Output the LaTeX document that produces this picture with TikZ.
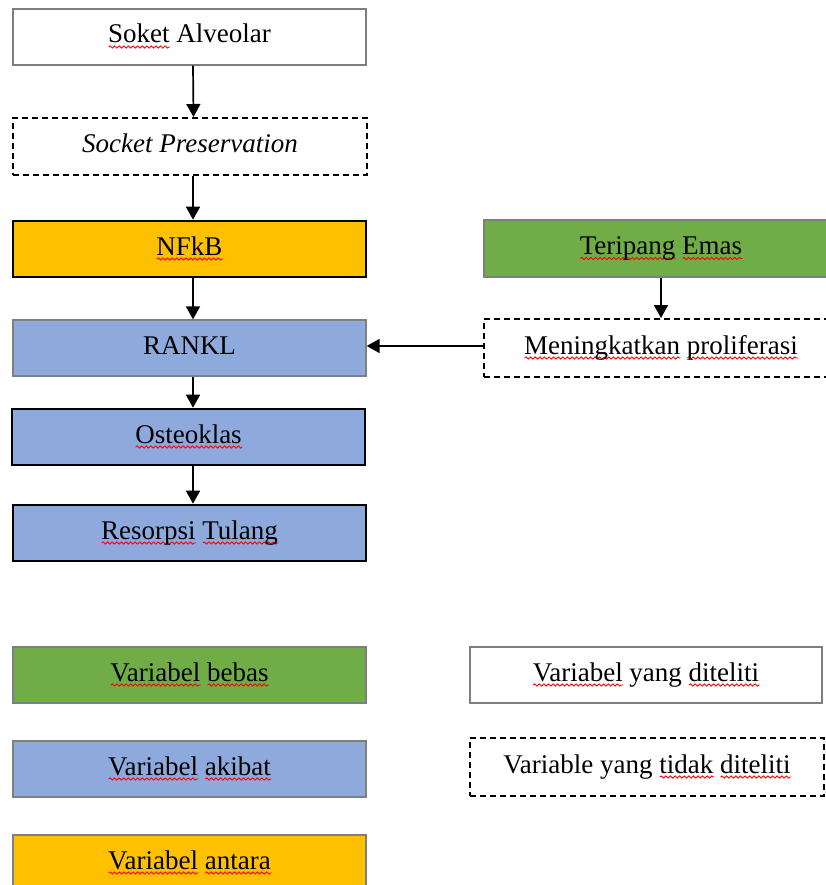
\documentclass[tikz,border=0pt]{standalone}
\usepackage{fontspec}
\setmainfont{Liberation Serif}
\usetikzlibrary{arrows.meta,decorations.pathmorphing}
\definecolor{cOrange}{HTML}{FFC000}
\definecolor{cBlue}{HTML}{8EA9DB}
\definecolor{cGreen}{HTML}{70AD47}
\definecolor{cGray}{HTML}{7F7F7F}
\newsavebox\sqbox
\newlength\sqlen
\newcommand\sq[1]{\sbox\sqbox{#1}\setlength\sqlen{\wd\sqbox}\rlap{\raisebox{0pt}[0pt][0pt]{\tikz[baseline=0pt]{\draw[red, line width=0.9pt, decorate, decoration={snake, amplitude=1.1pt, segment length=4.6pt}] (0pt,-4pt) -- (\sqlen,-4pt);}}}\usebox\sqbox}
\tikzset{
  boxbase/.style={rectangle, minimum width=353pt, minimum height=56pt, inner sep=0pt,
    font=\fontsize{27}{32}\selectfont, text=black, text height=18pt, text depth=6pt},
  graybox/.style={boxbase, draw=cGray, line width=1.3pt},
  thickbox/.style={boxbase, draw=black, line width=2.6pt},
  dashbox/.style={boxbase, draw=black, line width=2pt, dash pattern=on 6pt off 4pt, fill=white},
  arr/.style={line width=1.7pt, -{Triangle[width=14pt,length=13pt]}}
}
\begin{document}
\begin{tikzpicture}[x=1pt,y=-1pt]
\useasboundingbox (0,0) rectangle (826,885);
\clip (0,0) rectangle (826,885);
\fill[white] (0,0) rectangle (826,885);
% main column
\node[graybox, fill=white] (soket) at (189.5,37) {\sq{Soket} Alveolar};
\node[dashbox, minimum height=57pt, minimum width=354pt] (pres) at (190,146.5) {\textit{Socket Preservation}};
\node[thickbox, fill=cOrange] (nfkb) at (189.5,249) {\sq{NFkB}};
\node[graybox, fill=cBlue] (rankl) at (189.5,348) {RANKL};
\node[thickbox, fill=cBlue] (osteo) at (188.5,437) {\sq{Osteoklas}};
\node[thickbox, fill=cBlue] (reso) at (189.5,533) {\sq{Resorpsi} \sq{Tulang}};
% right column
\node[graybox, fill=cGreen, minimum width=354pt, minimum height=57pt] (terip) at (661,248.5) {\sq{Teripang} \sq{Emas}};
\node[dashbox, minimum width=354pt, minimum height=58pt] (mening) at (661,348) {\sq{Meningkatkan} \sq{proliferasi}};
% connectors
\draw[arr] ([xshift=3.5pt]soket.south) -- ([xshift=3.5pt]pres.north);
\draw[arr] ([xshift=3pt]pres.south) -- ([xshift=3.5pt]nfkb.north);
\draw[arr] ([xshift=3.5pt]nfkb.south) -- ([xshift=3.5pt]rankl.north);
\draw[arr] ([xshift=3.5pt]rankl.south) -- ([xshift=4.5pt]osteo.north);
\draw[arr] ([xshift=4.5pt]osteo.south) -- ([xshift=3.5pt]reso.north);
\draw[arr] (terip.south) -- (mening.north);
\draw[arr] ([yshift=2pt]mening.west) -- ([yshift=2pt]rankl.east);
% legend
\node[graybox, fill=cGreen] (lbebas) at (189.5,675) {\sq{Variabel} \sq{bebas}};
\node[graybox, fill=cBlue] (lakibat) at (189.5,769) {\sq{Variabel} \sq{akibat}};
\node[graybox, fill=cOrange] (lantara) at (189.5,863) {\sq{Variabel} \sq{antara}};
\node[graybox, fill=white, minimum width=352pt] (lditeliti) at (646,675) {\sq{Variabel} yang \sq{diteliti}};
\node[dashbox, minimum width=354pt, minimum height=58pt] (ltidak) at (647,767) {Variable yang \sq{tidak} \sq{diteliti}};
\end{tikzpicture}
\end{document}
